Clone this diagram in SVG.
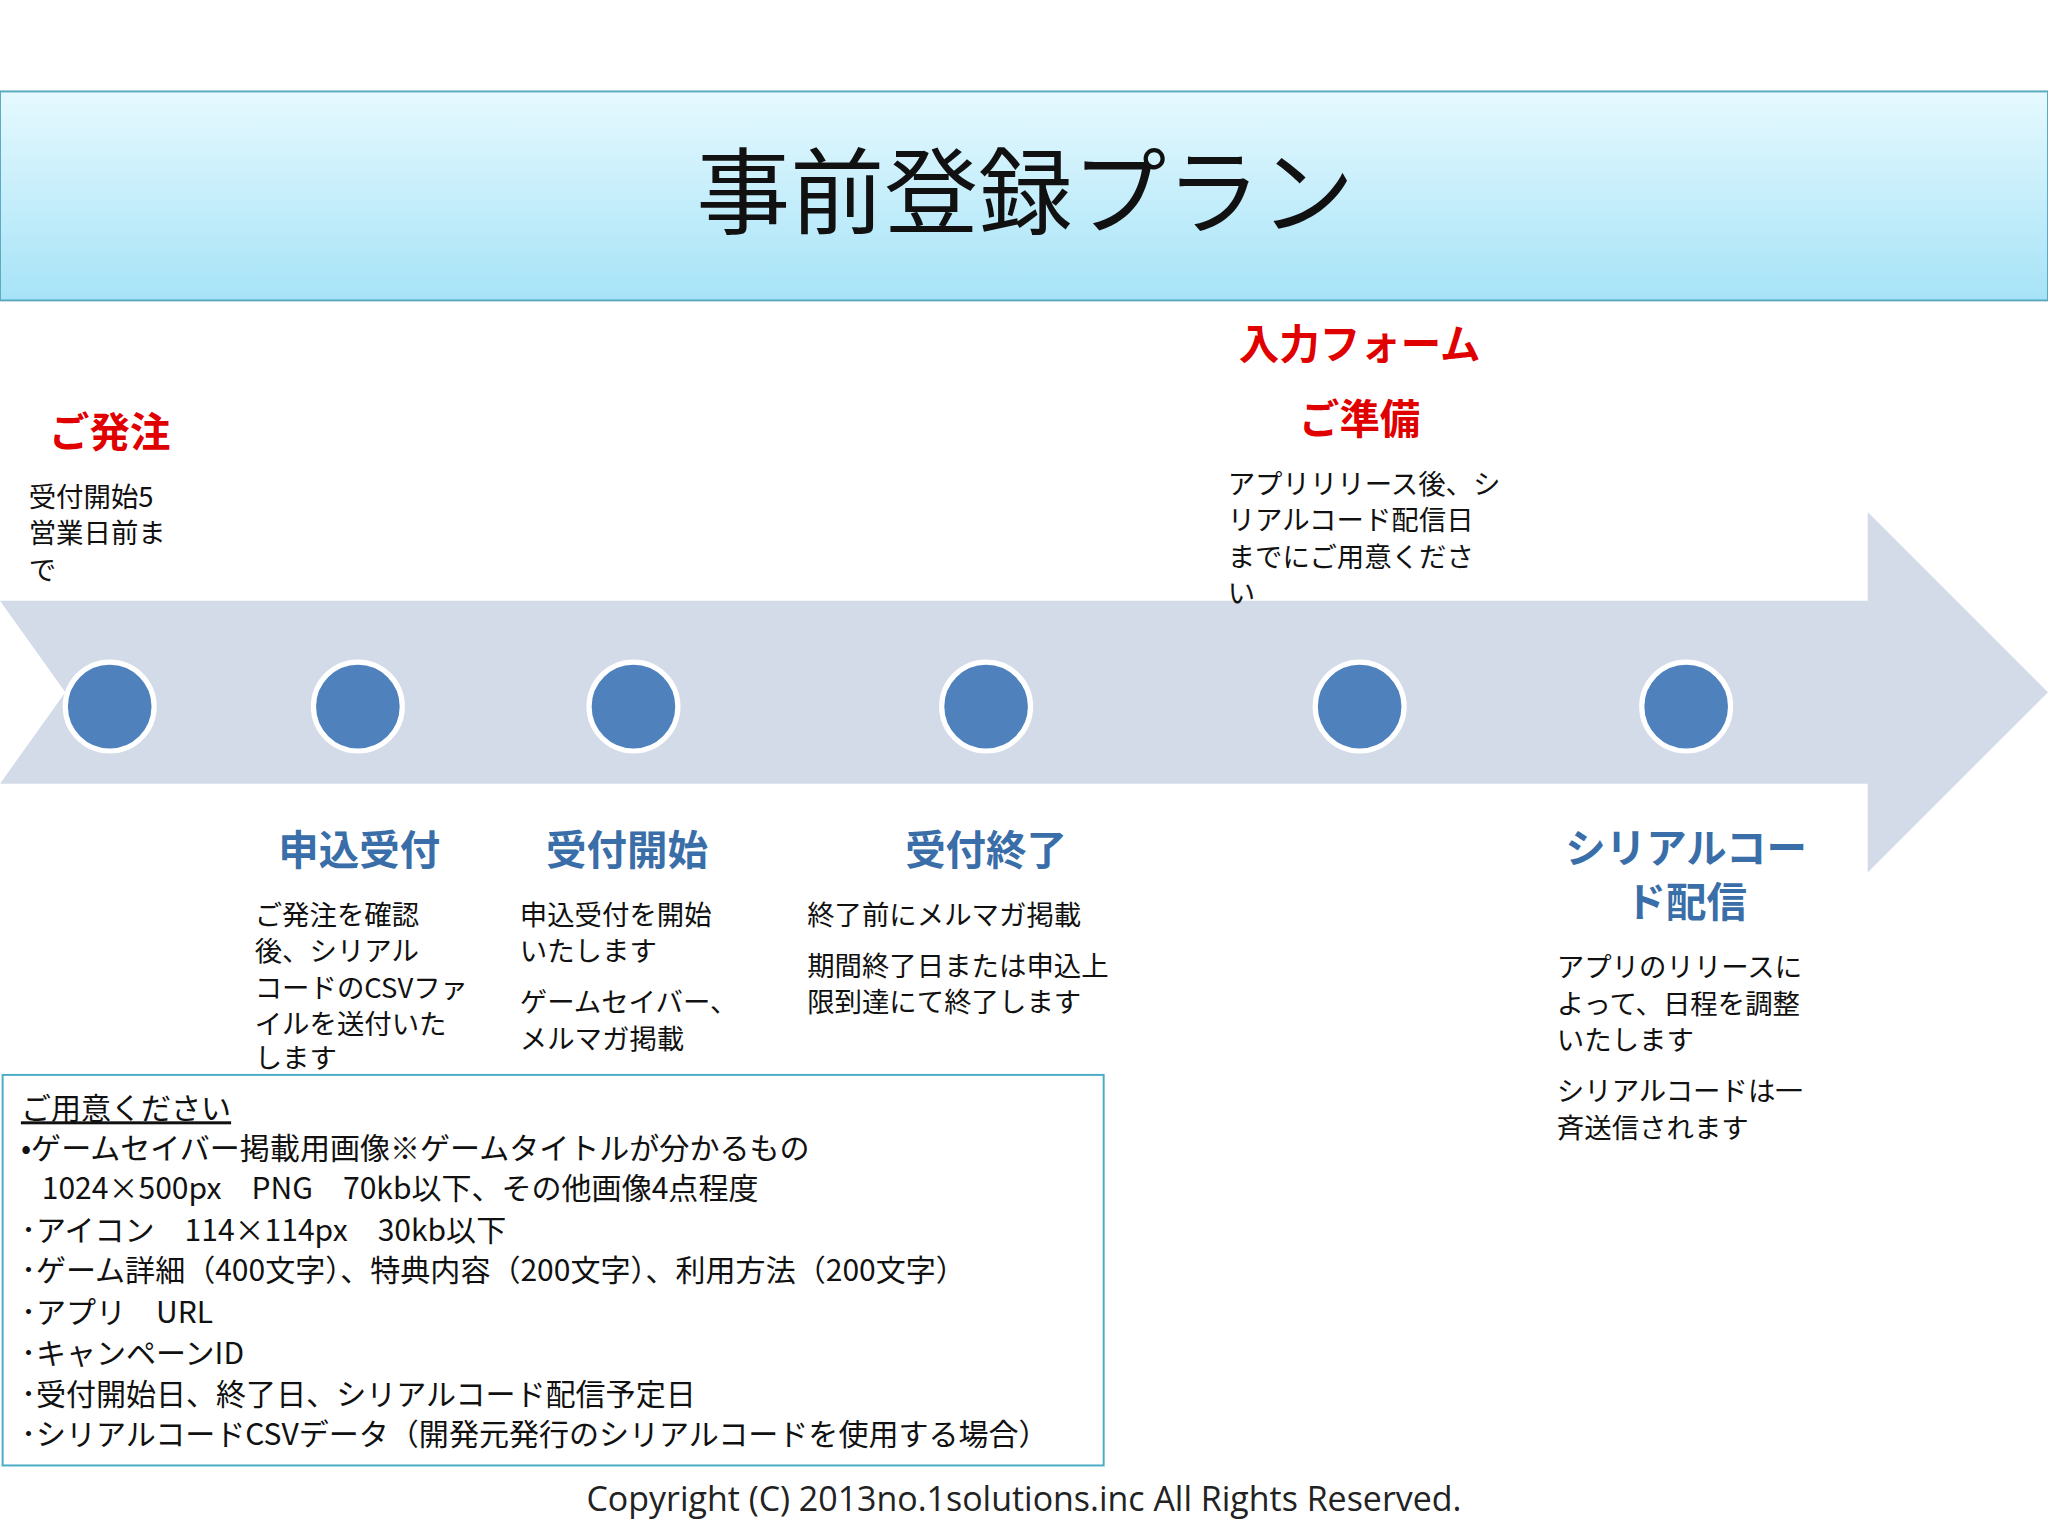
<svg xmlns="http://www.w3.org/2000/svg" width="2048" height="1536" viewBox="0 0 2048 1536">
<defs>
<linearGradient id="hg" x1="0" y1="0" x2="0" y2="1"><stop offset="0" stop-color="#e6f9ff"/><stop offset="1" stop-color="#a6e3f7"/></linearGradient>
<style>
text{font-family:"Noto Sans CJK JP","Noto Sans",sans-serif;}
.red{fill:#e00000;font-weight:bold;font-size:31px;text-anchor:middle}
.blue{fill:#3a6ea8;font-weight:bold;font-size:31px;text-anchor:middle}
.d{fill:#111;font-size:21px}
.b{fill:#111;font-size:23px}
.dot{fill:#4f81bd;stroke:#fff;stroke-width:4}
</style>
</defs>
<rect width="2048" height="1536" fill="#fff"/>
<g transform="scale(1.3061)">
<g id="header"><rect x="0" y="70" width="1568" height="160" fill="url(#hg)" stroke="#5aaac0" stroke-width="1.5"/>
<text x="785" y="174" font-size="72" text-anchor="middle" fill="#111">事前登録プラン</text></g>
<g id="arrow"><polygon points="0,460 1430,460 1430,392 1568,530 1430,668 1430,600 0,600 50,530" fill="#d3dbe9"/></g>
<g id="connectors"></g>
<g id="dots">
<circle class="dot" cx="84" cy="541" r="34"/><circle class="dot" cx="274" cy="541" r="34"/><circle class="dot" cx="485" cy="541" r="34"/><circle class="dot" cx="755" cy="541" r="34"/><circle class="dot" cx="1041" cy="541" r="34"/><circle class="dot" cx="1291" cy="541" r="34"/>
</g>
<g id="order"><text class="red" x="84" y="342">ご発注</text>
<text class="d" x="22" y="388">受付開始5</text><text class="d" x="22" y="416">営業日前ま</text><text class="d" x="22" y="444">で</text></g>
<g id="form"><text class="red" x="1041" y="275">入力フォーム</text><text class="red" x="1041" y="332">ご準備</text>
<text class="d" x="940" y="378">アプリリリース後、シ</text><text class="d" x="940" y="406">リアルコード配信日</text><text class="d" x="940" y="434">までにご用意くださ</text><text class="d" x="940" y="462">い</text></g>
<g id="apply"><text class="blue" x="275" y="662">申込受付</text>
<text class="d" x="195" y="708">ご発注を確認</text><text class="d" x="195" y="736">後、シリアル</text><text class="d" x="195" y="764">コードのCSVファ</text><text class="d" x="195" y="792">イルを送付いた</text><text class="d" x="195" y="818">します</text></g>
<g id="start"><text class="blue" x="480" y="662">受付開始</text>
<text class="d" x="398" y="708">申込受付を開始</text><text class="d" x="398" y="736">いたします</text><text class="d" x="398" y="775">ゲームセイバー、</text><text class="d" x="398" y="803">メルマガ掲載</text></g>
<g id="end"><text class="blue" x="755" y="662">受付終了</text>
<text class="d" x="618" y="708">終了前にメルマガ掲載</text><text class="d" x="618" y="747">期間終了日または申込上</text><text class="d" x="618" y="775">限到達にて終了します</text></g>
<g id="serial"><text class="blue" x="1291" y="661" font-size="30">シリアルコー</text><text class="blue" x="1291" y="702" font-size="30">ド配信</text>
<text class="d" x="1192" y="748">アプリのリリースに</text><text class="d" x="1192" y="776">よって、日程を調整</text><text class="d" x="1192" y="804">いたします</text><text class="d" x="1192" y="843">シリアルコードは一</text><text class="d" x="1192" y="871">斉送信されます</text></g>
<g id="box"><rect x="2" y="823" width="843" height="299" fill="#fff" stroke="#4bacc6" stroke-width="1.5"/>
<text class="b" x="16" y="857" text-decoration="underline">ご用意ください</text>
<text class="b" x="16" y="887">•ゲームセイバー掲載用画像※ゲームタイトルが分かるもの</text>
<text class="b" x="32" y="918">1024×500px　PNG　70kb以下、その他画像4点程度</text>
<text class="b" x="16" y="950">･アイコン　114×114px　30kb以下</text>
<text class="b" x="16" y="981">･ゲーム詳細（400文字）、特典内容（200文字）、利用方法（200文字）</text>
<text class="b" x="16" y="1013">･アプリ　URL</text>
<text class="b" x="16" y="1044">･キャンペーンID</text>
<text class="b" x="16" y="1076">･受付開始日、終了日、シリアルコード配信予定日</text>
<text class="b" x="16" y="1106">･シリアルコードCSVデータ（開発元発行のシリアルコードを使用する場合）</text></g>
<text x="784" y="1157" font-size="26" text-anchor="middle" fill="#222" style="font-family:'Open Sans',sans-serif">Copyright (C) 2013no.1solutions.inc All Rights Reserved.</text>
</g>
</svg>
